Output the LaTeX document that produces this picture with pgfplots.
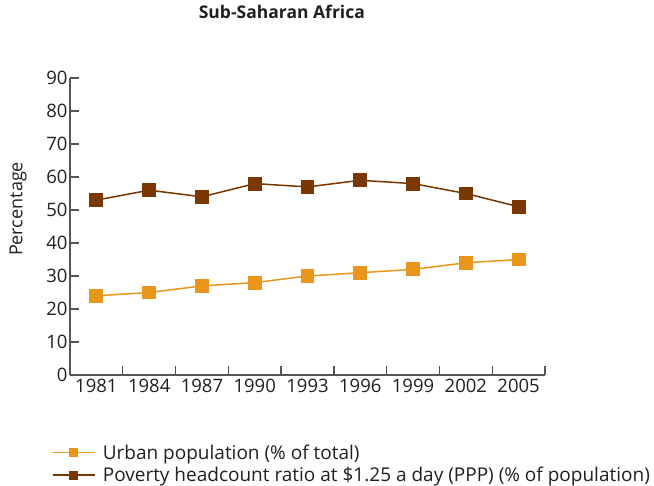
\documentclass[border=0pt]{standalone}
\usepackage{pgfplots}
\pgfplotsset{compat=1.18}
\usepackage{fontspec}
\setmainfont{Open Sans}
\definecolor{urban}{HTML}{E8961C}
\definecolor{pov}{HTML}{7A3800}
\definecolor{axisgray}{HTML}{555555}
\definecolor{txt}{HTML}{231F20}
\begin{document}
\begin{tikzpicture}
\useasboundingbox (-70bp,-111bp) rectangle (584bp,375bp);
\begin{axis}[
  at={(0,0)}, anchor=south west,
  scale only axis, width=475bp, height=297bp,
  xmin=-0.5, xmax=8.5, ymin=0, ymax=90,
  axis x line=bottom, axis y line=left,
  axis line style={-, line width=1.3bp, draw=axisgray},
  tick align=inside,
  major tick length=9bp,
  tick style={draw=axisgray, line width=1.3bp},
  xtick={-0.5,0.5,1.5,2.5,3.5,4.5,5.5,6.5,7.5,8.5},
  xticklabels={},
  extra x ticks={0,1,2,3,4,5,6,7,8},
  extra x tick labels={1981,1984,1987,1990,1993,1996,1999,2002,2005},
  extra x tick style={tick style={draw=none}},
  ytick={0,10,...,90},
  /pgf/number format/assume math mode=true,
  tick label style={font=\fontsize{18.5bp}{22bp}\selectfont, text=txt},
  xticklabel style={yshift=-1bp},
  yticklabel style={xshift=1bp},
  ylabel={Percentage},
  ylabel style={at={(axis description cs:-0.109,0.559)}, anchor=center, font=\fontsize{18bp}{22bp}\selectfont, text=txt},
  title={Sub-Saharan Africa},
  title style={at={(axis description cs:0.446,1)}, anchor=center, yshift=60bp, font=\fontsize{17.5bp}{21bp}\selectfont\bfseries, text=txt},
  legend style={at={(axis description cs:-0.045,0)}, anchor=north west, yshift=-66bp,
    draw=none, fill=none, font=\fontsize{19bp}{22bp}\selectfont, text=txt,
    row sep=3.5bp, nodes={inner sep=1.5bp},
    /tikz/every odd column/.append style={column sep=6bp}},
  legend cell align=left,
  legend image code/.code={
    \draw[#1,mark=none] (0bp,0bp) -- (42bp,0bp);
    \draw[#1,only marks,mark size=4.2pt] plot coordinates {(21bp,0bp)};
  },
]
\addplot[color=urban, line width=1.5bp, mark=square*, mark size=6.5pt, mark options={fill=urban, draw=urban, line width=0pt}]
  coordinates {(0,24) (1,25) (2,27) (3,28) (4,30) (5,31) (6,32) (7,34) (8,35)};
\addlegendentry{Urban population (\% of total)}
\addplot[color=pov, line width=1.5bp, mark=square*, mark size=6.5pt, mark options={fill=pov, draw=pov, line width=0pt}]
  coordinates {(0,53) (1,56) (2,54) (3,58) (4,57) (5,59) (6,58) (7,55) (8,51)};
\addlegendentry{Poverty headcount ratio at \$1.25 a day (PPP) (\% of population)}
\end{axis}
\end{tikzpicture}
\end{document}
